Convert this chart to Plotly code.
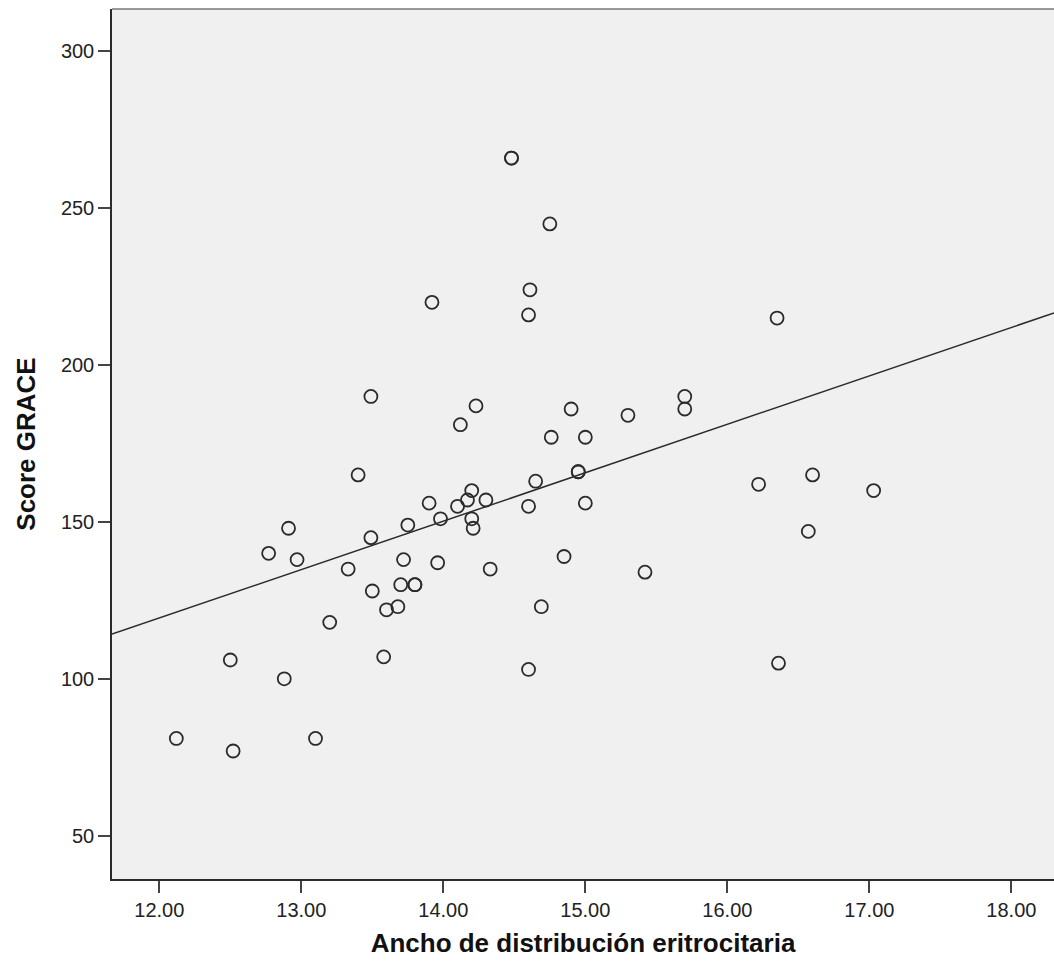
import numpy as np
import plotly.graph_objects as go

# Ancho de distribución eritrocitaria (x) and Score GRACE (y)
rdw = [12.12, 12.50, 12.52, 12.77, 12.88, 12.91, 12.97, 13.10, 13.20, 13.33,
       13.40, 13.49, 13.49, 13.50, 13.58, 13.60, 13.68, 13.70, 13.72, 13.75,
       13.80, 13.80, 13.90, 13.92, 13.96, 13.98, 14.10, 14.12, 14.17, 14.20,
       14.20, 14.21, 14.23, 14.30, 14.33, 14.48, 14.48, 14.60, 14.60, 14.60,
       14.61, 14.65, 14.69, 14.75, 14.76, 14.85, 14.90, 14.95, 14.95, 15.00,
       15.00, 15.30, 15.42, 15.70, 15.70, 16.22, 16.35, 16.36, 16.57, 16.60,
       17.03]
grace = [81, 106, 77, 140, 100, 148, 138, 81, 118, 135,
         165, 190, 145, 128, 107, 122, 123, 130, 138, 149,
         130, 130, 156, 220, 137, 151, 155, 181, 157, 160,
         151, 148, 187, 157, 135, 266, 266, 155, 103, 216,
         224, 163, 123, 245, 177, 139, 186, 166, 166, 177,
         156, 184, 134, 190, 186, 162, 215, 105, 147, 165,
         160]

x_ticks = [12, 13, 14, 15, 16, 17, 18]
y_ticks = [50, 100, 150, 200, 250, 300]
x_range = [11.667, 18.30]
y_range = [36.2, 313.5]

slope, intercept = np.polyfit(rdw, grace, 1)
fit_x = np.array(x_range)
fit_y = intercept + slope * fit_x

FONT = "Arial, 'Liberation Sans', sans-serif"
DARK = "#2b2b2b"

fig = go.Figure()
fig.add_trace(go.Scatter(
    x=fit_x, y=fit_y, mode="lines",
    line=dict(color=DARK, width=1.5), hoverinfo="skip", showlegend=False))
fig.add_trace(go.Scatter(
    x=rdw, y=grace, mode="markers",
    marker=dict(symbol="circle-open", size=13, color=DARK,
                line=dict(width=1.8, color=DARK)),
    showlegend=False))

fig.update_layout(
    width=1054, height=971,
    margin=dict(l=112, r=0, t=9, b=92),
    paper_bgcolor="white", plot_bgcolor="#f0f0f0",
    font=dict(family=FONT, color="#222"),
    shapes=[dict(type="line", xref="paper", yref="paper", x0=0, x1=1, y0=1, y1=1,
                 line=dict(color="#777", width=1.5))],
)
fig.update_xaxes(
    range=x_range, tickvals=x_ticks, ticktext=[f"{v:.2f}" for v in x_ticks],
    showgrid=False, zeroline=False, showline=True, linecolor=DARK, linewidth=1.5,
    ticks="outside", ticklen=12, tickwidth=1.5, tickcolor="#444",
    tickfont=dict(size=20, family=FONT, color="#222"),
    title=dict(text="<b>Ancho de distribución eritrocitaria</b>",
               font=dict(size=26, family=FONT, color="#111"), standoff=14),
)
fig.update_yaxes(
    range=y_range, tickvals=y_ticks, ticktext=[str(v) for v in y_ticks],
    showgrid=False, zeroline=False, showline=True, linecolor=DARK, linewidth=1.5,
    ticks="outside", ticklen=12, tickwidth=1.5, tickcolor="#444",
    tickfont=dict(size=20, family=FONT, color="#222"),
    title=dict(text="<b>Score GRACE</b>",
               font=dict(size=26, family=FONT, color="#111"), standoff=18),
)

fig.write_html("out.html",
               config={"displayModeBar": False},
               post_script="document.body.style.margin='0';document.body.style.overflow='hidden';")
